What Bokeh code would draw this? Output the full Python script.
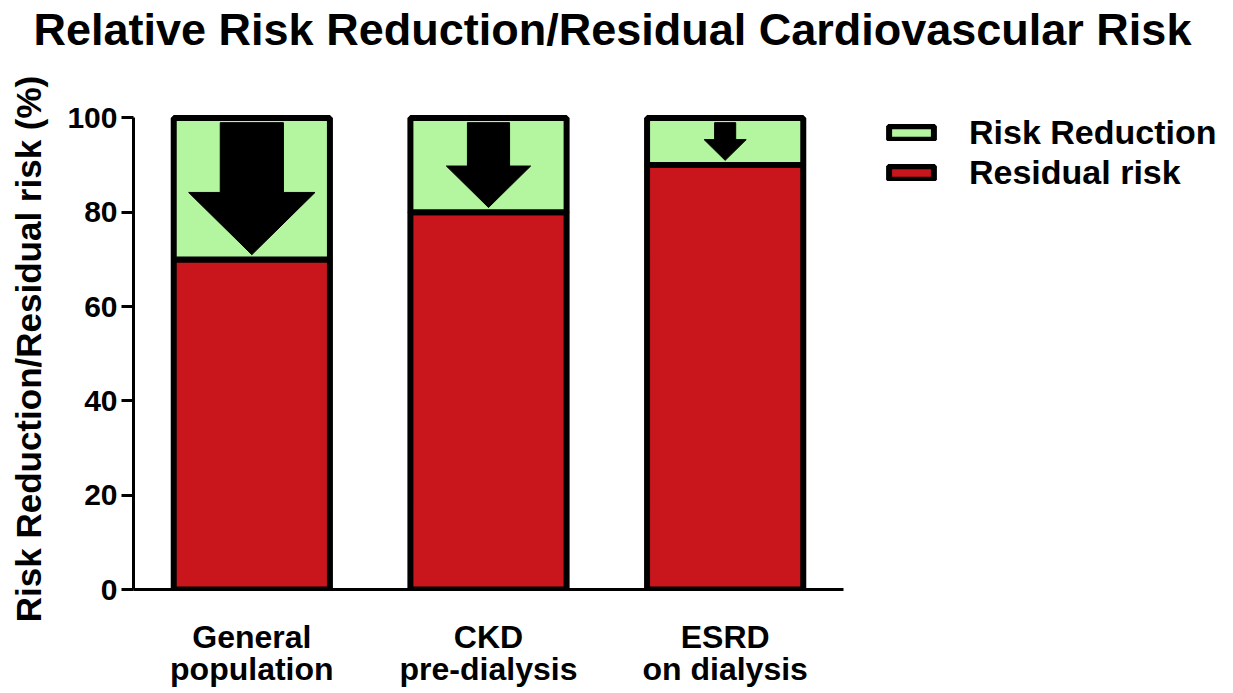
from bokeh.plotting import figure
from bokeh.models import Range1d, FixedTicker, Legend, LegendItem, ColumnDataSource, LinearAxis
from bokeh.embed import file_html
from bokeh.resources import INLINE

categories = ["General\npopulation", "CKD\npre-dialysis", "ESRD\non dialysis"]
residual_risk = [70, 80, 90]
risk_reduction = [30, 20, 10]
y_ticks = [0, 20, 40, 60, 80, 100]

RED = "#c8161c"
GREEN = "#b4f5a0"
FONT = "Liberation Sans"

xs = [i + 0.5 for i in range(len(categories))]
src = ColumnDataSource(dict(x=xs, residual=residual_risk, reduction=risk_reduction))

p = figure(frame_width=710, frame_height=481, output_backend="svg", toolbar_location=None,
           x_range=Range1d(0, len(categories)), y_range=Range1d(0, 102),
           min_border_left=133, min_border_right=0, min_border_top=0, min_border_bottom=0)
p.outline_line_color = None
p.grid.grid_line_color = None
p.background_fill_color = "white"

rs = p.vbar_stack(["residual", "reduction"], x="x", width=0.66, source=src,
                  fill_color=[RED, GREEN], line_color="black", line_width=6)

# arrows inside the risk-reduction segment, sized by the reduction
axs, ays = [], []
for xc, res, red in zip(xs, residual_risk, risk_reduction):
    sw = red * 0.00445
    hw = red * 0.0089
    top = 99.0
    tip = res + 1.0
    htop = tip + 0.44 * red
    axs.append([xc - sw, xc + sw, xc + sw, xc + hw, xc, xc - hw, xc - sw])
    ays.append([top, top, htop, htop, tip, htop, htop])
p.patches(axs, ays, fill_color="black", line_color="black", line_width=1)

# axes
p.xaxis.ticker = FixedTicker(ticks=xs)
p.xaxis.major_label_overrides = {x: c for x, c in zip(xs, categories)}
p.xaxis.major_tick_line_color = None
p.xaxis.minor_tick_line_color = None
p.xaxis.axis_line_width = 3
p.xaxis.major_label_text_font = FONT
p.xaxis.major_label_text_font_style = "bold"
p.xaxis.major_label_text_font_size = "32px"
p.xaxis.major_label_text_line_height = 0.9
p.xaxis.major_label_text_color = "black"
p.xaxis.major_label_standoff = 23

p.yaxis.ticker = FixedTicker(ticks=y_ticks)
p.yaxis.bounds = (0, 100)
p.yaxis.axis_line_width = 3
p.yaxis.major_tick_line_width = 3
p.yaxis.major_tick_out = 12
p.yaxis.major_tick_in = 0
p.yaxis.minor_tick_line_color = None
p.yaxis.major_label_text_font = FONT
p.yaxis.major_label_text_font_style = "bold"
p.yaxis.major_label_text_font_size = "30px"
p.yaxis.major_label_text_color = "black"
p.yaxis.major_label_standoff = 4

# y-axis title on its own (line-less) axis
label_axis = LinearAxis(ticker=FixedTicker(ticks=[]), bounds=(-3.8, 100),
                        axis_line_color=None, major_tick_line_color=None,
                        minor_tick_line_color=None, major_tick_out=0, major_tick_in=0,
                        axis_label="Risk Reduction/Residual risk (%)",
                        axis_label_text_font=FONT, axis_label_text_font_style="bold",
                        axis_label_text_font_size="35px", axis_label_text_color="black",
                        axis_label_standoff=17)
p.add_layout(label_axis, "left")

# invisible spacer between the title and the plot area (white tick, no label)
spacer = LinearAxis(ticker=FixedTicker(ticks=[len(categories) / 2]), axis_line_color=None,
                    major_tick_line_color="white", minor_tick_line_color=None,
                    major_tick_out=52, major_tick_in=0,
                    major_label_text_color=None,
                    major_label_overrides={len(categories) / 2: ""})
p.add_layout(spacer, "above")

# title
p.title.text = "Relative Risk Reduction/Residual Cardiovascular Risk"
p.title.text_font = FONT
p.title.text_font_style = "bold"
p.title.text_font_size = "45px"
p.title.text_color = "black"
p.title.align = "left"
p.title.offset = -100
p.title.standoff = 3

legend = Legend(items=[LegendItem(label="Risk Reduction", renderers=[rs[1]]),
                       LegendItem(label="Residual risk", renderers=[rs[0]])],
                location=(40, 397), orientation="vertical")
legend.border_line_color = None
legend.background_fill_alpha = 0
legend.glyph_width = 56
legend.glyph_height = 17
legend.label_standoff = 30
legend.spacing = 1
legend.padding = 0
legend.margin = 0
legend.label_text_font = FONT
legend.label_text_font_style = "bold"
legend.label_text_font_size = "34px"
legend.label_text_color = "black"
p.add_layout(legend, "right")

open("out.html", "w").write(file_html(p, INLINE))
